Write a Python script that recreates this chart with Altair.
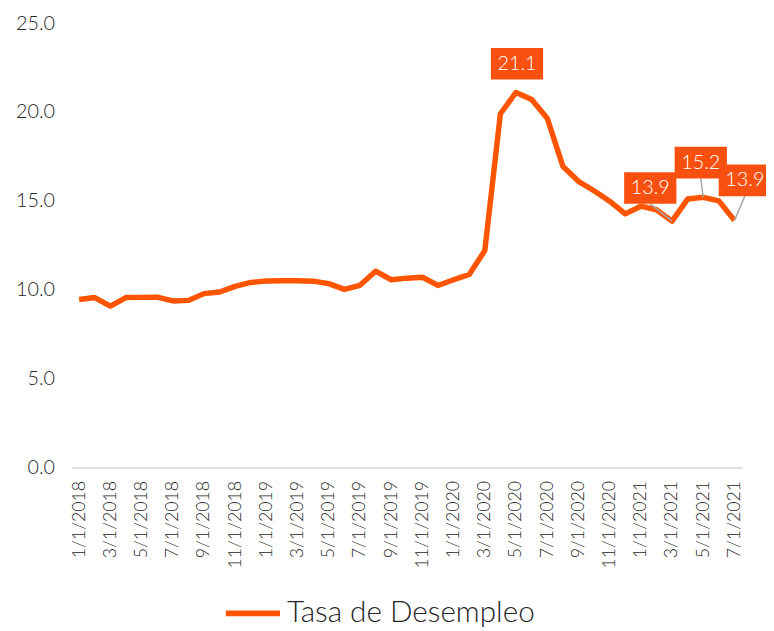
import json
import altair as alt
import pandas as pd

# ---- data ----
months = [
    "1/1/2018", "2/1/2018", "3/1/2018", "4/1/2018", "5/1/2018", "6/1/2018",
    "7/1/2018", "8/1/2018", "9/1/2018", "10/1/2018", "11/1/2018", "12/1/2018",
    "1/1/2019", "2/1/2019", "3/1/2019", "4/1/2019", "5/1/2019", "6/1/2019",
    "7/1/2019", "8/1/2019", "9/1/2019", "10/1/2019", "11/1/2019", "12/1/2019",
    "1/1/2020", "2/1/2020", "3/1/2020", "4/1/2020", "5/1/2020", "6/1/2020",
    "7/1/2020", "8/1/2020", "9/1/2020", "10/1/2020", "11/1/2020", "12/1/2020",
    "1/1/2021", "2/1/2021", "3/1/2021", "4/1/2021", "5/1/2021", "6/1/2021",
    "7/1/2021",
]
tasa = [
    9.45, 9.56, 9.08, 9.56, 9.57, 9.58, 9.37, 9.40, 9.78, 9.87, 10.19, 10.41,
    10.49, 10.50, 10.50, 10.48, 10.34, 10.02, 10.25, 11.04, 10.56, 10.65, 10.70, 10.24,
    10.56, 10.86, 12.20, 19.90, 21.10, 20.70, 19.65, 16.95, 16.10, 15.57, 14.98, 14.27,
    14.70, 14.50, 13.86, 15.10, 15.20, 15.00, 13.90,
]
series_name = "Tasa de Desempleo"

label_months = ["5/1/2020", "3/1/2021", "5/1/2021", "7/1/2021"]
label_texts = ["21.1", "13.9", "15.2", "13.9"]

# ---- styling / placement constants ----
W, H = 678, 449
Y_MAX = 25
PX_X = W / len(months)
PX_Y = H / Y_MAX
label_dx = [1, -22, -2.5, 10.5]        # px offset of box centre from point
label_dy = [-29, -33.5, -35, -40.5]
label_leader = [False, True, True, True]
BOX_HALF_H = 16

LINE_COLOR = "#FF5500"
BOX_COLOR = "#F9500F"
TEXT_COLOR = "#262626"
FONT = "Lato"
WEIGHT = 300

df = pd.DataFrame({"idx": list(range(len(months))), "month": months,
                   "tasa": tasa, "serie": series_name})

rows = []
for m, t, dx, dy, ld in zip(label_months, label_texts, label_dx, label_dy, label_leader):
    i = months.index(m)
    v = tasa[i]
    rows.append({
        "idx": i, "tasa": v, "text": t,
        "bx": i + dx / PX_X, "by": v - dy / PX_Y,
        "lx": i + dx / PX_X, "ly": v - (dy + BOX_HALF_H) / PX_Y,
        "leader": ld,
    })
lab = pd.DataFrame(rows)

x_scale = alt.Scale(domain=[-0.5, len(months) - 0.5], nice=False, zero=False)
y_scale = alt.Scale(domain=[0, Y_MAX], nice=False)

label_expr = json.dumps(months) + "[datum.value]"

x_axis = alt.Axis(
    values=list(range(0, len(months), 2)), labelExpr=label_expr, title=None,
    labelAngle=270, labelFontSize=18, labelFont=FONT, labelFontWeight=WEIGHT,
    labelColor=TEXT_COLOR, ticks=False, grid=False, domain=True,
    domainColor="#D9D9D9", domainWidth=1.5, labelPadding=13, labelOverlap=False,
    labelBound=False, labelFlush=False,
)
y_axis = alt.Axis(
    values=[0, 5, 10, 15, 20, 25], format=".1f", title=None, labelFontSize=20,
    labelFont=FONT, labelFontWeight=WEIGHT, labelColor=TEXT_COLOR, ticks=False,
    grid=False, domain=False, labelPadding=17,
)

line = alt.Chart(df).mark_line(strokeWidth=5.5, strokeJoin="round").encode(
    x=alt.X("idx:Q", scale=x_scale, axis=x_axis),
    y=alt.Y("tasa:Q", scale=y_scale, axis=y_axis),
    color=alt.Color(
        "serie:N", scale=alt.Scale(range=[LINE_COLOR]), title=None,
        legend=alt.Legend(
            orient="none", legendX=153, legendY=566, symbolType="stroke",
            symbolStrokeWidth=6, symbolSize=3000, labelFontSize=30,
            labelFont=FONT, labelFontWeight=WEIGHT, labelColor=TEXT_COLOR,
            labelLimit=400, labelOffset=4,
        ),
    ),
)

leaders = alt.Chart(lab).transform_filter("datum.leader").mark_rule(
    color="#A6A6A6", strokeWidth=1.5
).encode(
    x=alt.X("idx:Q", scale=x_scale, axis=x_axis),
    y=alt.Y("tasa:Q", scale=y_scale, axis=y_axis),
    x2="lx:Q", y2="ly:Q",
)

box_path = "M-1.65,-1H1.65V1H-1.65Z"
boxes = alt.Chart(lab).mark_point(
    shape=box_path, filled=True, size=1024, opacity=1, color=BOX_COLOR, strokeWidth=0
).encode(x=alt.X("bx:Q", scale=x_scale, axis=x_axis),
         y=alt.Y("by:Q", scale=y_scale, axis=y_axis))

texts = alt.Chart(lab).mark_text(
    color="white", fontSize=20, font=FONT, fontWeight=WEIGHT, baseline="middle", align="center"
).encode(x=alt.X("bx:Q", scale=x_scale, axis=x_axis),
         y=alt.Y("by:Q", scale=y_scale, axis=y_axis), text="text:N")

chart = alt.layer(line, leaders, boxes, texts).properties(
    width=W, height=H, autosize=alt.AutoSizeParams(type="none"),
    padding={"left": 64, "top": 12, "right": 24, "bottom": 162},
).configure_view(stroke=None)

chart.save("out.html", embed_options={"renderer": "svg", "actions": False})
